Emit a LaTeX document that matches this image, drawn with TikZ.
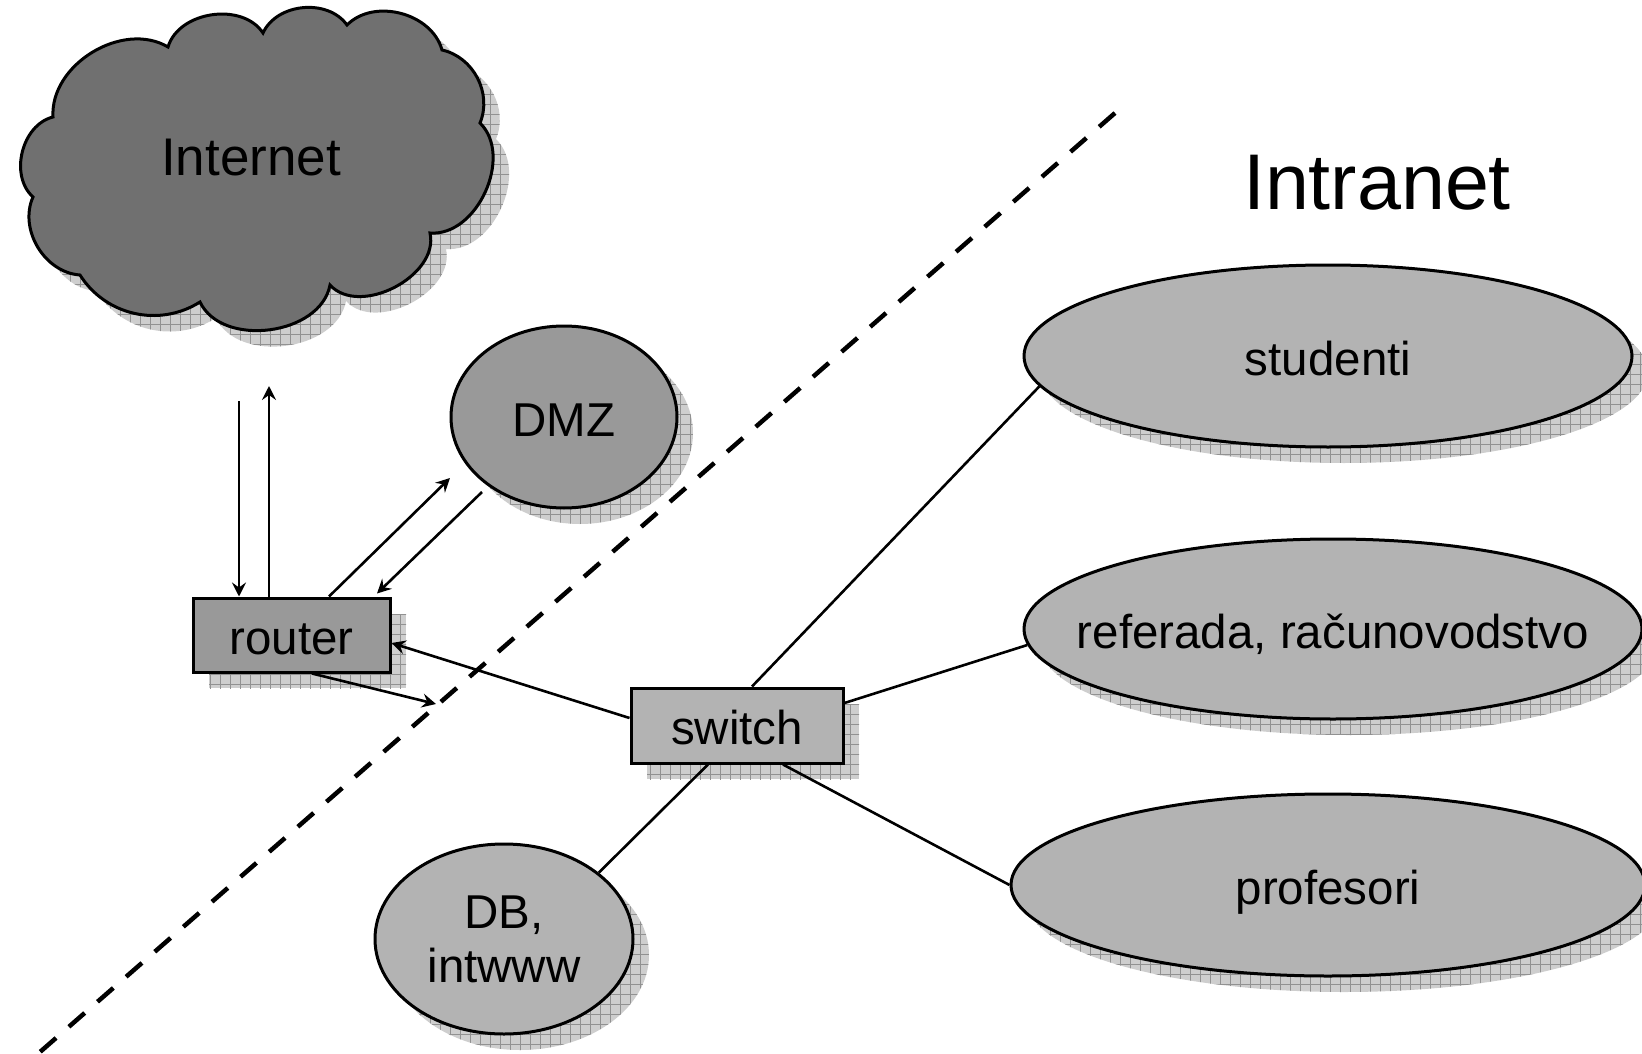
\documentclass[tikz,border=0pt]{standalone}
\usepackage{fontspec}
\setmainfont{Liberation Sans}
\usetikzlibrary{arrows.meta,patterns.meta,shapes.geometric,shadows}

\definecolor{cloudfill}{RGB}{112,112,112}
\definecolor{darkfill}{RGB}{153,153,153}
\definecolor{lightfill}{RGB}{179,179,179}
\definecolor{shadowbg}{RGB}{206,206,206}
\definecolor{shadowgrid}{RGB}{145,145,145}

\newcommand\labelsize{\fontsize{47.5}{54}\selectfont}

\tikzset{
  gridshadow/.style={
    general shadow={shadow xshift=16pt,shadow yshift=-16pt,fill=shadowbg},
    general shadow={shadow xshift=16pt,shadow yshift=-16pt,
      pattern={Hatch[angle=0,distance=10pt,line width=0.8pt]},pattern color=shadowgrid}},
  devbox/.style={rectangle,draw,line width=3pt,inner sep=0pt,gridshadow,
    font=\labelsize,text height=40pt,text depth=2pt},
  zone/.style={ellipse,draw,line width=3pt,inner sep=0pt,fill=lightfill,gridshadow},
  zonetext/.style={font=\labelsize,text height=40pt,text depth=2pt},
  twolines/.style={font=\labelsize,align=center},
  link/.style={line width=2.6pt},
  flow/.style={line width=2.6pt,-{Stealth[length=14pt,width=14pt,inset=5pt]}},
  border/.style={line width=4.5pt,dash pattern=on 21pt off 17pt},
  cloudoutline/.style={insert path={(168,47) to[bend left=65] (263,33)
      to[bend left=60] (347,25) to[bend left=60] (442,50)
      to[bend left=50] (480,123) to[bend left=70] (430,233)
      to[bend left=75] (330,285) to[bend left=72] (200,302)
      to[bend left=45] (80,275) to[bend left=55] (33,197)
      to[bend left=62] (53,117) to[bend left=62] (168,47) -- cycle}},
}

\begin{document}
\begin{tikzpicture}[x=1pt,y=-1pt]
\useasboundingbox (0,0) rectangle (1642,1054);

% boundary between the outside world and the intranet
\coordinate (fwtop) at (1115,113);
\coordinate (fwbottom) at (40,1052);
\draw[border] (fwtop) -- (fwbottom);

% Internet cloud with its hatched shadow
\path[fill=shadowbg,shift={(16,16)},cloudoutline];
\path[pattern={Hatch[angle=0,distance=10pt,line width=0.8pt]},pattern color=shadowgrid,shift={(16,16)},cloudoutline];
\path[draw,line width=3pt,fill=cloudfill,cloudoutline];
\node[font=\fontsize{53}{60}\selectfont] (internet) at (251,158) {Internet};

\node[font=\fontsize{79}{90}\selectfont] (intranet) at (1377,183) {Intranet};

% devices
\node[devbox,fill=darkfill,minimum width=197pt,minimum height=74pt] (router) at (291.5,635) {router};
\node[devbox,fill=lightfill,minimum width=212pt,minimum height=75pt] (switch) at (737,725.5) {switch};

% zones
\node[zone,fill=darkfill,minimum width=226pt,minimum height=182pt,label={[zonetext]center:DMZ}] (dmz) at (564,417) {};
\node[zone,minimum width=258pt,minimum height=190pt,label={[twolines]center:DB,\\intwww}] (db) at (504,939) {};
\node[zone,minimum width=608pt,minimum height=182pt,label={[zonetext]center:studenti}] (studenti) at (1328,356) {};
\node[zone,minimum width=618pt,minimum height=180pt,label={[zonetext]center:referada, računovodstvo}] (referada) at (1333,629) {};
\node[zone,minimum width=634pt,minimum height=182pt,label={[zonetext]center:profesori}] (profesori) at (1328,885) {};

% traffic through the router
\coordinate (inetdown) at (239,401);
\coordinate (inetup) at (269,386);
\draw[flow] (inetdown) -- (inetdown |- router.north);
\draw[flow] (inetup |- router.north) -- (inetup);
\coordinate (todmz) at (450,478);
\coordinate (fromdmz) at (482,492);
\draw[flow] ([xshift=37.5pt]router.north) -- (todmz);
\draw[flow] (fromdmz) -- ([xshift=85.5pt,yshift=3pt]router.north);
\coordinate (tolan) at (436,704);
\draw[flow] ([xshift=20.5pt]router.south) -- (tolan);
\draw[flow] ([yshift=7.5pt]switch.west) -- ([yshift=-8pt]router.east);

% switch to the internal segments
\draw[link] ([xshift=15pt]switch.north) -- (studenti.186);
\draw[link] ([yshift=22.5pt]switch.east) -- (referada.183);
\draw[link] ([xshift=46pt]switch.south) -- (profesori.west);
\draw[link] ([xshift=-29pt]switch.south) -- (db.35);
\end{tikzpicture}
\end{document}
